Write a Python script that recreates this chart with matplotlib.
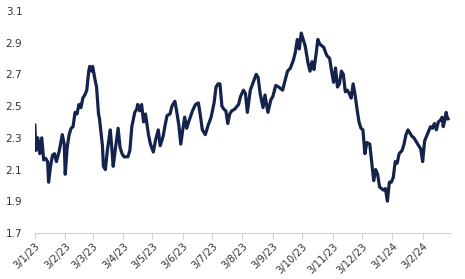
import matplotlib
matplotlib.use('Agg')
import matplotlib.pyplot as plt
import pandas as pd

# values
dates = [
    '2023-01-03', '2023-01-04', '2023-01-06', '2023-01-08', '2023-01-10', '2023-01-12', '2023-01-14',
    '2023-01-16', '2023-01-17', '2023-01-19', '2023-01-21', '2023-01-23', '2023-01-25', '2023-01-28',
    '2023-01-31', '2023-02-02', '2023-02-03', '2023-02-05', '2023-02-07', '2023-02-09', '2023-02-11',
    '2023-02-13', '2023-02-15', '2023-02-17', '2023-02-19', '2023-02-21', '2023-02-23', '2023-02-25',
    '2023-02-27', '2023-02-28', '2023-03-02', '2023-03-03', '2023-03-05', '2023-03-07', '2023-03-09',
    '2023-03-10', '2023-03-13', '2023-03-14', '2023-03-16', '2023-03-18', '2023-03-21', '2023-03-22',
    '2023-03-24', '2023-03-26', '2023-03-29', '2023-03-31', '2023-04-02', '2023-04-04', '2023-04-08',
    '2023-04-10', '2023-04-12', '2023-04-15', '2023-04-17', '2023-04-18', '2023-04-20', '2023-04-22',
    '2023-04-24', '2023-04-26', '2023-04-29', '2023-05-01', '2023-05-04', '2023-05-06', '2023-05-09',
    '2023-05-11', '2023-05-14', '2023-05-16', '2023-05-18', '2023-05-21', '2023-05-23', '2023-05-26',
    '2023-05-28', '2023-05-30', '2023-06-01', '2023-06-03', '2023-06-05', '2023-06-07', '2023-06-09',
    '2023-06-13', '2023-06-16', '2023-06-19', '2023-06-21', '2023-06-23', '2023-06-26', '2023-06-29',
    '2023-07-02', '2023-07-05', '2023-07-07', '2023-07-09', '2023-07-11', '2023-07-13', '2023-07-15',
    '2023-07-17', '2023-07-19', '2023-07-21', '2023-07-23', '2023-07-26', '2023-07-30', '2023-08-01',
    '2023-08-04', '2023-08-06', '2023-08-08', '2023-08-11', '2023-08-14', '2023-08-17', '2023-08-19',
    '2023-08-21', '2023-08-24', '2023-08-26', '2023-08-29', '2023-09-01', '2023-09-03', '2023-09-06',
    '2023-09-09', '2023-09-13', '2023-09-15', '2023-09-18', '2023-09-21', '2023-09-24', '2023-09-26',
    '2023-09-28', '2023-09-30', '2023-10-02', '2023-10-04', '2023-10-06', '2023-10-09', '2023-10-11',
    '2023-10-13', '2023-10-15', '2023-10-17', '2023-10-19', '2023-10-21', '2023-10-23', '2023-10-25',
    '2023-10-28', '2023-10-31', '2023-11-02', '2023-11-04', '2023-11-06', '2023-11-08', '2023-11-10',
    '2023-11-12', '2023-11-14', '2023-11-16', '2023-11-18', '2023-11-20', '2023-11-22', '2023-11-24',
    '2023-11-26', '2023-11-28', '2023-11-30', '2023-12-02', '2023-12-04', '2023-12-06', '2023-12-08',
    '2023-12-11', '2023-12-15', '2023-12-17', '2023-12-19', '2023-12-21', '2023-12-23', '2023-12-25',
    '2023-12-27', '2023-12-29', '2023-12-31', '2024-01-02', '2024-01-04', '2024-01-06', '2024-01-08',
    '2024-01-10', '2024-01-13', '2024-01-15', '2024-01-17', '2024-01-19', '2024-01-21', '2024-01-23',
    '2024-01-25', '2024-01-28', '2024-01-30', '2024-02-01', '2024-02-03', '2024-02-05', '2024-02-07',
    '2024-02-09', '2024-02-11', '2024-02-13', '2024-02-15', '2024-02-17', '2024-02-19', '2024-02-21',
    '2024-02-23', '2024-02-24', '2024-02-26', '2024-02-27', '2024-02-28', '2024-02-29',
]
values = [
    2.38, 2.22, 2.30, 2.20, 2.30, 2.16, 2.17,
    2.15, 2.02, 2.12, 2.19, 2.20, 2.15, 2.22,
    2.32, 2.26, 2.07, 2.24, 2.32, 2.36, 2.37,
    2.46, 2.45, 2.51, 2.49, 2.55, 2.57, 2.60,
    2.72, 2.75, 2.72, 2.75, 2.68, 2.62, 2.45,
    2.42, 2.25, 2.12, 2.10, 2.22, 2.35, 2.28,
    2.12, 2.22, 2.36, 2.24, 2.20, 2.18, 2.18,
    2.22, 2.37, 2.46, 2.48, 2.51, 2.47, 2.51,
    2.40, 2.45, 2.32, 2.26, 2.21, 2.28, 2.35,
    2.25, 2.31, 2.38, 2.44, 2.45, 2.50, 2.53,
    2.46, 2.38, 2.26, 2.35, 2.43, 2.36, 2.40,
    2.47, 2.51, 2.52, 2.44, 2.35, 2.32, 2.38,
    2.43, 2.52, 2.62, 2.64, 2.64, 2.50, 2.48,
    2.47, 2.39, 2.45, 2.47, 2.48, 2.51, 2.56,
    2.60, 2.58, 2.46, 2.60, 2.65, 2.70, 2.68,
    2.58, 2.49, 2.57, 2.46, 2.54, 2.56, 2.63,
    2.62, 2.60, 2.65, 2.72, 2.74, 2.79, 2.84,
    2.92, 2.86, 2.96, 2.92, 2.88, 2.77, 2.72,
    2.78, 2.73, 2.82, 2.92, 2.89, 2.88, 2.87,
    2.82, 2.80, 2.72, 2.65, 2.74, 2.62, 2.64,
    2.72, 2.70, 2.59, 2.60, 2.58, 2.55, 2.64,
    2.57, 2.48, 2.40, 2.36, 2.35, 2.20, 2.27,
    2.26, 2.03, 2.10, 2.07, 1.99, 1.98, 1.97,
    1.98, 1.90, 2.02, 2.02, 2.05, 2.15, 2.14,
    2.20, 2.22, 2.26, 2.32, 2.35, 2.33, 2.31,
    2.30, 2.27, 2.25, 2.23, 2.15, 2.28, 2.31,
    2.34, 2.37, 2.36, 2.39, 2.35, 2.40, 2.41,
    2.43, 2.37, 2.42, 2.46, 2.43, 2.42,
]
yticks = [1.7, 1.9, 2.1, 2.3, 2.5, 2.7, 2.9, 3.1]

df = pd.DataFrame({'date': pd.to_datetime(dates), 'value': values})

fig = plt.figure(figsize=(4.65, 2.79), dpi=100)
ax = fig.add_axes([0.075, 0.165, 0.895, 0.796])
ax.plot(df['date'], df['value'], color='#14234b', lw=2.3, solid_joinstyle='round')

ax.set_ylim(1.7, 3.1)
ax.set_yticks(yticks)
ax.set_yticklabels(['%.1f' % t for t in yticks])
ax.set_xlim(pd.Timestamp('2023-01-03'), pd.Timestamp('2024-03-03'))

# ticks on the 3rd of every month
ticks = pd.date_range('2023-01-01', '2024-02-01', freq='MS') + pd.Timedelta(days=2)
ax.set_xticks(ticks)
ax.set_xticklabels(['%d/%d/%s' % (t.day, t.month, t.strftime('%y')) for t in ticks],
                   rotation=45, ha='right', rotation_mode='anchor')

for s in ['top', 'right', 'left']:
    ax.spines[s].set_visible(False)
ax.spines['bottom'].set_color('#c9d1dc')
ax.spines['bottom'].set_linewidth(0.8)
ax.tick_params(axis='y', length=0, pad=9, labelsize=7.5, labelcolor='#333333')
ax.tick_params(axis='x', length=4, width=0.8, color='#c9d1dc', pad=2, labelsize=7.2, labelcolor='#333333')

plt.savefig('out.png', dpi=100)
